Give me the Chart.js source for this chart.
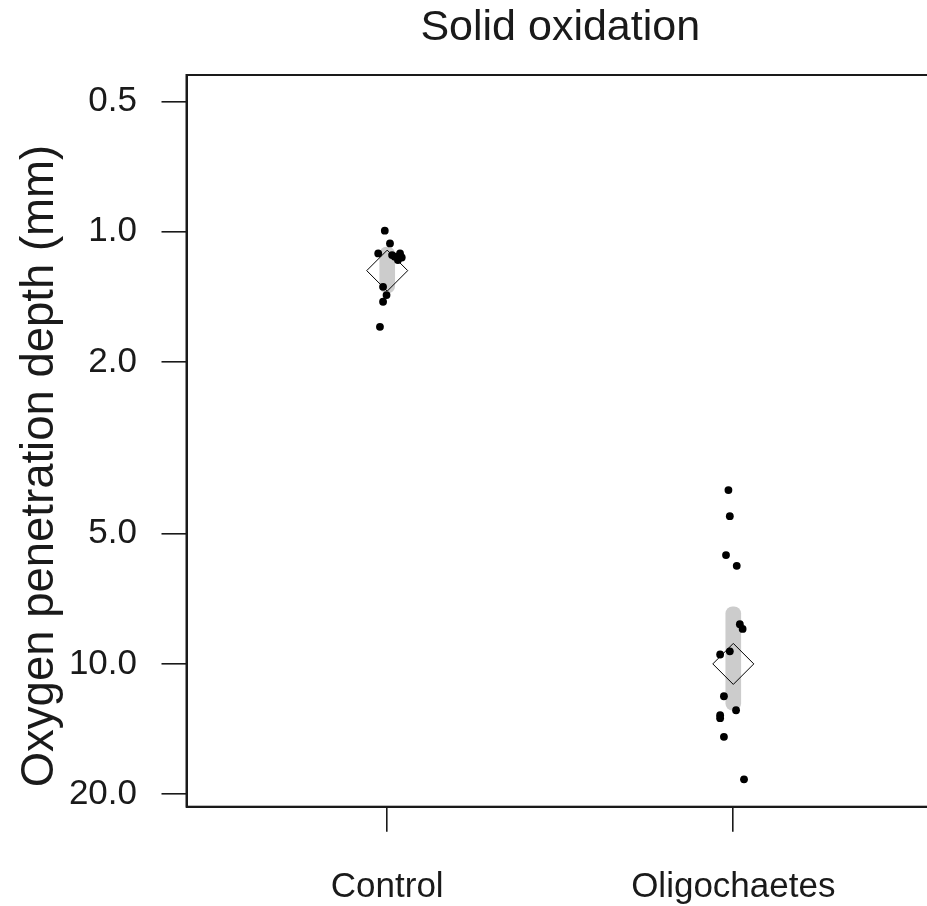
<!DOCTYPE html>
<html>
<head>
<meta charset="utf-8">
<script src="https://cdn.jsdelivr.net/npm/chart.js@4"></script>
<style>
  body { margin: 0; background: #fff; overflow: hidden; }
</style>
</head>
<body>
<canvas id="myChart" width="945" height="906"></canvas>
<script>
const categories = ['Control', 'Oligochaetes']
const yTicks = [0.5, 1, 2, 5, 10, 20]

// individual measurements (mm) and their horizontal jitter
const controlDepth = [0.994, 1.064, 1.122, 1.132, 1.142, 1.122, 1.163, 1.147, 1.341, 1.401, 1.452, 1.659]
const controlJitter = [-0.007, 0.008, -0.026, 0.014, 0.022, 0.037, 0.031, 0.042, -0.012, -0.002, -0.012, -0.021]
const oligoDepth = [3.96, 4.55, 5.60, 5.93, 8.09, 8.30, 9.51, 9.35, 11.88, 12.80, 13.14, 13.35, 14.75, 18.5]
const oligoJitter = [-0.014, -0.010, -0.021, 0.010, 0.019, 0.027, -0.038, -0.010, -0.027, 0.008, -0.038, -0.038, -0.027, 0.031]

// group means and interval (grey band)
const groupMean = [1.23, 10.0]
const bandLow = [1.085, 7.38]
const bandHigh = [1.386, 12.8]

const ink = '#1a1a1a'
const fontFam = "'Liberation Sans', Arial, sans-serif"

const points = []
controlDepth.forEach((v, i) => points.push({ x: 1 + controlJitter[i], y: v }))
oligoDepth.forEach((v, i) => points.push({ x: 2 + oligoJitter[i], y: v }))

const boxFrame = {
  id: 'boxFrame',
  afterDraw(chart) {
    const a = chart.chartArea
    const c = chart.ctx
    c.save()
    c.strokeStyle = ink
    c.lineWidth = 2
    c.strokeRect(a.left, a.top, a.right - a.left, a.bottom - a.top)
    c.restore()
  }
}

const ctx = document.getElementById('myChart')

const chart = new Chart(ctx, {
  type: 'scatter',
  data: {
    datasets: [
      {
        type: 'scatter',
        label: 'samples',
        data: points,
        pointRadius: 3.9,
        pointBackgroundColor: '#000',
        pointBorderWidth: 0,
        order: 0
      },
      {
        type: 'scatter',
        label: 'mean',
        data: groupMean.map((v, i) => ({ x: i + 1, y: v })),
        pointStyle: 'rectRot',
        pointRadius: 20.5,
        pointBackgroundColor: 'rgba(0,0,0,0)',
        pointBorderColor: '#000',
        pointBorderWidth: 1,
        order: 1
      },
      {
        type: 'bar',
        label: 'interval',
        data: bandLow.map((v, i) => ({ x: i + 1, y: [v, bandHigh[i]] })),
        backgroundColor: '#cccccc',
        borderWidth: 0,
        borderSkipped: false,
        borderRadius: 7,
        barThickness: 15,
        grouped: false,
        order: 2
      }
    ]
  },
  options: {
    responsive: false,
    animation: false,
    layout: { autoPadding: false, padding: { left: 0, right: 11, top: 0, bottom: 0 } },
    plugins: {
      legend: { display: false },
      tooltip: { enabled: false },
      title: {
        display: true,
        text: 'Solid oxidation',
        fullSize: false,
        color: ink,
        font: { family: fontFam, size: 43, weight: 'normal', lineHeight: 1.2 },
        padding: { top: 2, bottom: 21.4 }
      }
    },
    scales: {
      x: {
        type: 'linear',
        min: 0.42,
        max: 2.58,
        offset: false,
        afterFit: (s) => { s.height = 99.3 },
        afterBuildTicks: (s) => { s.ticks = categories.map((c, i) => ({ value: i + 1 })) },
        ticks: {
          autoSkip: false,
          maxRotation: 0,
          padding: 35,
          color: ink,
          font: { family: fontFam, size: 35 },
          callback: (v) => categories[v - 1]
        },
        grid: { drawOnChartArea: false, offset: false, color: ink, lineWidth: 1.6, tickLength: 25 },
        border: { display: true, color: ink, width: 2 }
      },
      y: {
        type: 'logarithmic',
        reverse: true,
        min: 0.4337,
        max: 21.4,
        afterFit: (s) => { s.width = 186.5 },
        afterBuildTicks: (s) => { s.ticks = yTicks.map(v => ({ value: v })) },
        ticks: {
          autoSkip: false,
          padding: 24.5,
          color: ink,
          font: { family: fontFam, size: 35 },
          callback: (v) => v.toFixed(1)
        },
        grid: { drawOnChartArea: false, color: ink, lineWidth: 1.6, tickLength: 25 },
        border: { display: true, color: ink, width: 2 },
        title: {
          display: true,
          // trailing spaces nudge the centred label down along the axis
          text: 'Oxygen penetration depth (mm)    ',
          color: ink,
          font: { family: fontFam, size: 45.5, lineHeight: 1.2 },
          padding: { top: 13, bottom: 0 }
        }
      }
    }
  },
  plugins: [boxFrame]
})
</script>
</body>
</html>
